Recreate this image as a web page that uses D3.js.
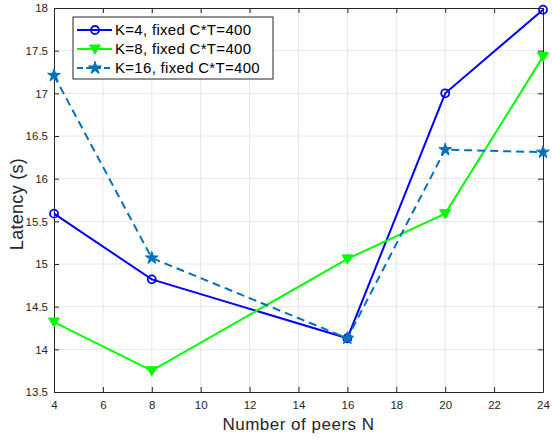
<!DOCTYPE html>
<html>
<head>
<meta charset="utf-8">
<script src="https://cdn.jsdelivr.net/npm/d3@7"></script>
<style>
  body { margin: 0; background: #fff; }
  text { font-family: "Liberation Sans", Arial, sans-serif; }
</style>
</head>
<body>
<div id="chart"></div>
<script>
// data
var peers = [4, 8, 16, 20, 24];
var latK4 = [15.59, 14.82, 14.13, 17.0, 17.98];
var latK8 = [14.32, 13.75, 15.06, 15.59, 17.43];
var latK16 = [17.21, 15.07, 14.13, 16.34, 16.31];
var seriesNames = ["K=4, fixed C*T=400", "K=8, fixed C*T=400", "K=16, fixed C*T=400"];
var xTicks = [4, 6, 8, 10, 12, 14, 16, 18, 20, 22, 24];
var yTicks = [13.5, 14, 14.5, 15, 15.5, 16, 16.5, 17, 17.5, 18];

var W = 552, H = 440;
var margin = {top: 8, right: 9, bottom: 48, left: 54},
    width = W - margin.left - margin.right,
    height = H - margin.top - margin.bottom;

var svg = d3.select("#chart").append("svg")
    .attr("width", W).attr("height", H)
  .append("g")
    .attr("transform", "translate(" + margin.left + "," + margin.top + ")");

var x = d3.scaleLinear().domain([4, 24]).range([0, width]);
var y = d3.scaleLinear().domain([13.5, 18]).range([height, 0]);

// grid
svg.append("g").selectAll("line").data(xTicks.slice(1, -1)).enter().append("line")
  .attr("x1", d => x(d)).attr("x2", d => x(d)).attr("y1", 0).attr("y2", height)
  .attr("stroke", "#e6e6e6").attr("stroke-width", 1);
svg.append("g").selectAll("line").data(yTicks.slice(1, -1)).enter().append("line")
  .attr("y1", d => y(d)).attr("y2", d => y(d)).attr("x1", 0).attr("x2", width)
  .attr("stroke", "#e6e6e6").attr("stroke-width", 1);

// axes (ticks inside, box)
function styleAxis(g) {
  g.selectAll("path").attr("stroke", "#262626");
  g.selectAll("line").attr("stroke", "#262626");
  g.selectAll("text").attr("fill", "#262626").style("font-size", "11.5px");
}
var fmt = d3.format("~g");
svg.append("g").attr("transform", "translate(0," + height + ")")
  .call(d3.axisBottom(x).tickValues(xTicks).tickFormat(fmt).tickSizeInner(-5).tickSizeOuter(0).tickPadding(9))
  .call(styleAxis);
svg.append("g")
  .call(d3.axisLeft(y).tickValues(yTicks).tickFormat(fmt).tickSizeInner(-5).tickSizeOuter(0).tickPadding(6))
  .call(styleAxis);
svg.append("g")
  .call(d3.axisTop(x).tickValues(xTicks).tickFormat("").tickSizeInner(-5).tickSizeOuter(0))
  .call(styleAxis);
svg.append("g").attr("transform", "translate(" + width + ",0)")
  .call(d3.axisRight(y).tickValues(yTicks).tickFormat("").tickSizeInner(-5).tickSizeOuter(0))
  .call(styleAxis);

// axis labels
svg.append("text").attr("x", width / 2).attr("y", height + 38)
  .attr("text-anchor", "middle").style("font-size", "17px").style("letter-spacing", "0.5px")
  .attr("fill", "#262626")
  .text("Number of peers N");
svg.append("text").attr("transform", "rotate(-90)")
  .attr("x", -height / 2 - 4).attr("y", -31)
  .attr("text-anchor", "middle").style("font-size", "18px").style("letter-spacing", "0.3px")
  .attr("fill", "#262626")
  .text("Latency (s)");

var series = [
  {name: seriesNames[0], values: latK4, color: "#0000ff", dash: null, marker: "circle"},
  {name: seriesNames[1], values: latK8, color: "#00ff00", dash: null, marker: "triangle"},
  {name: seriesNames[2], values: latK16, color: "#0072bd", dash: "8,5", marker: "star"}
];

var line = d3.line().x(d => x(d[0])).y(d => y(d[1]));

function drawMarker(g, s, cx, cy) {
  if (s.marker == "circle") {
    g.append("circle").attr("cx", cx).attr("cy", cy).attr("r", 4)
      .attr("fill", "none").attr("stroke", s.color).attr("stroke-width", 1.8);
  } else if (s.marker == "triangle") {
    g.append("path").attr("d", "M" + (cx - 5.5) + "," + (cy - 4) + "L" + (cx + 5.5) + "," + (cy - 4) + "L" + cx + "," + (cy + 5) + "Z")
      .attr("fill", s.color).attr("stroke", s.color).attr("stroke-width", 1);
  } else {
    g.append("path").attr("d", d3.symbol().type(d3.symbolStar).size(50)())
      .attr("transform", "translate(" + cx + "," + cy + ")")
      .attr("fill", s.color).attr("stroke", s.color).attr("stroke-width", 1);
  }
}

series.forEach(function(s) {
  var pts = peers.map((p, i) => [p, s.values[i]]);
  var g = svg.append("g");
  g.append("path").datum(pts).attr("d", line)
    .attr("fill", "none").attr("stroke", s.color).attr("stroke-width", 2)
    .attr("stroke-dasharray", s.dash);
  pts.forEach(function(p) { drawMarker(g, s, x(p[0]), y(p[1])); });
});

// legend
var leg = svg.append("g").attr("transform", "translate(" + (73 - margin.left) + "," + (17 - margin.top) + ")");
leg.append("rect").attr("x", 0).attr("y", 0).attr("width", 200).attr("height", 62)
  .attr("fill", "#fff").attr("stroke", "#262626").attr("stroke-width", 1);
series.forEach(function(s, i) {
  var cy = 13 + i * 19;
  leg.append("line").attr("x1", 4).attr("x2", 39).attr("y1", cy).attr("y2", cy)
    .attr("stroke", s.color).attr("stroke-width", 2).attr("stroke-dasharray", s.dash ? "6,3" : null);
  drawMarker(leg, s, 22, cy);
  leg.append("text").attr("x", 42).attr("y", cy).attr("dy", "0.35em")
    .style("font-size", "15px").style("letter-spacing", "0.3px")
    .attr("fill", "#000").text(s.name);
});
</script>
</body>
</html>
